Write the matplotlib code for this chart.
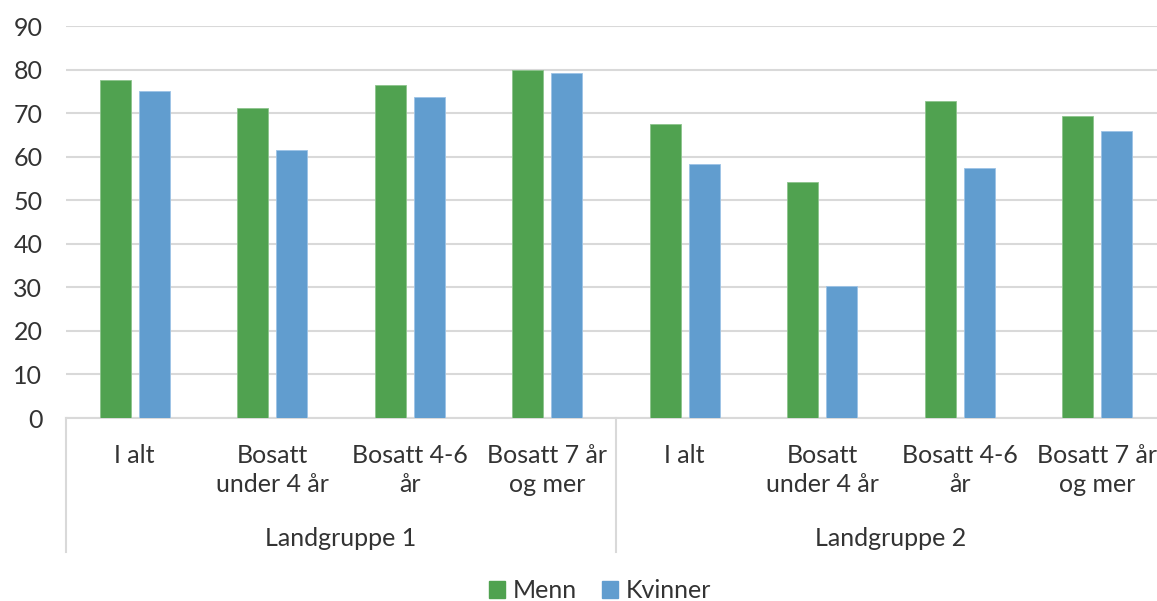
import matplotlib
matplotlib.use('Agg')
import matplotlib.pyplot as plt
import numpy as np
from matplotlib.patches import Patch

# data
groups = ['Landgruppe 1', 'Landgruppe 2']
categories = ['I alt', 'Bosatt\nunder 4 år', 'Bosatt 4-6\når', 'Bosatt 7 år\nog mer']
menn = [77.7, 71.2, 76.5, 80.0, 67.6, 54.1, 72.8, 69.4]
kvinner = [75.1, 61.6, 73.7, 79.1, 58.4, 30.4, 57.4, 66.0]

green = '#50a250'
blue = '#619dcf'
grid_col = '#d9d9d9'
txt_col = '#333333'
fs = 18

plt.rcParams['font.family'] = ['Lato', 'DejaVu Sans']

W, H = 1157, 601
fig = plt.figure(figsize=(W / 100, H / 100), dpi=100)
# plot area runs past the right edge, like the reference
ax = fig.add_axes([66 / W, (H - 418) / H, 1100 / W, 392 / H])

x = np.arange(len(menn))
bw = 0.225
off = 0.143
ax.bar(x - off, menn, bw, color=green, edgecolor='#8cc48c', linewidth=0.6, zorder=3)
ax.bar(x + off, kvinner, bw, color=blue, edgecolor='#9cc3e6', linewidth=0.6, zorder=3)

ax.set_xlim(-0.5, len(menn) - 0.5)
ax.set_ylim(0, 90)
ax.set_yticks(range(0, 91, 10))
ax.yaxis.grid(True, color=grid_col, linewidth=1.5, zorder=0)
ax.set_axisbelow(True)
for s in ['top', 'right', 'left']:
    ax.spines[s].set_visible(False)
ax.spines['bottom'].set_color(grid_col)
ax.spines['bottom'].set_linewidth(1.5)
ax.tick_params(axis='y', length=0, pad=17, labelsize=fs, labelcolor=txt_col)
ax.set_xticks([])

trans = ax.get_xaxis_transform()
def py(p):
    # pixel row -> axes fraction
    return (418 - p) / 392

# category labels
for i in range(len(menn)):
    ax.text(i, py(444), categories[i % 4], transform=trans, ha='center', va='top',
            fontsize=fs, color=txt_col, linespacing=1.3, clip_on=False)

# group labels and dividers
for g, name in enumerate(groups):
    ax.text(g * 4 + 1.5, py(539), name, transform=trans, ha='center', va='center',
            fontsize=fs, color=txt_col, clip_on=False)
for xd in [-0.5, 3.5, 7.5]:
    ax.plot([xd, xd], [0, py(552)], transform=trans, color=grid_col,
            linewidth=1.5, clip_on=False)

handles = [Patch(color=green, label='Menn'), Patch(color=blue, label='Kvinner')]
fig.legend(handles=handles, loc='center', bbox_to_anchor=(600 / W, 1 - 591 / H),
           ncol=2, frameon=False, fontsize=fs, handlelength=0.65, handleheight=0.65,
           handletextpad=0.3, columnspacing=1.0, labelcolor=txt_col)

fig.savefig('out.png', dpi=100)
